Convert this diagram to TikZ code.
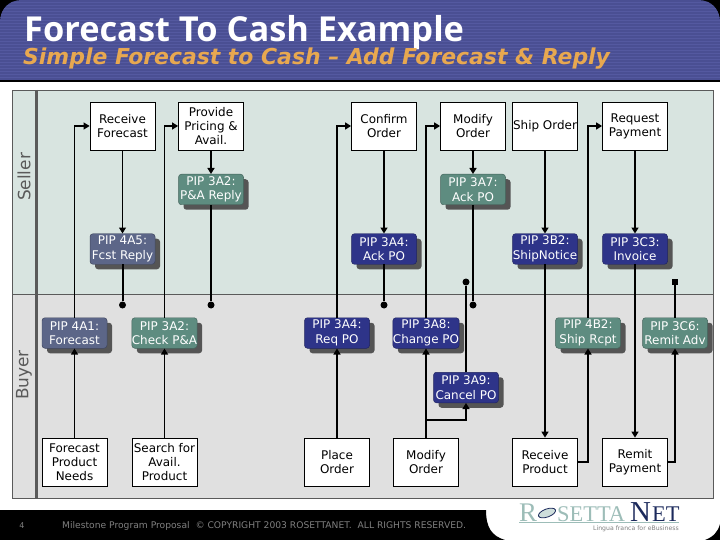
\documentclass[tikz,border=0pt]{standalone}
\usepackage{fontspec}
\setmainfont{DejaVu Sans}
\newfontfamily\titlefont{Open Sans}
\newfontfamily\logofont{Liberation Serif}
\usetikzlibrary{arrows.meta,shadows}
\definecolor{hdr}{HTML}{4A4F93}
\definecolor{hdrline}{HTML}{5459A0}
\definecolor{sellerbg}{HTML}{D8E4E0}
\definecolor{buyerbg}{HTML}{E0E0E0}
\definecolor{edgegray}{HTML}{5A5A5A}
\definecolor{pipnavy}{HTML}{2E3489}
\definecolor{pipgreen}{HTML}{5E8C80}
\definecolor{pipslate}{HTML}{5C6688}
\definecolor{pipshadow}{HTML}{555555}
\definecolor{orangetxt}{HTML}{E8A850}
\definecolor{foottxt}{HTML}{808080}
\definecolor{logoteal}{HTML}{9DBDB8}
\definecolor{logonavy}{HTML}{1C2A5C}
\tikzset{
  x=1bp,y=-1bp,
  procbox/.style={draw=black,line width=0.8pt,fill=white,minimum width=65bp,minimum height=48bp,
    inner sep=0pt,align=center,font=\fontsize{12}{14}\selectfont,text=black},
  pipbox/.style={rounded corners=3pt,minimum width=65bp,minimum height=30.5bp,inner sep=0pt,
    align=center,font=\fontsize{12}{14.5}\selectfont,text=white,draw=#1!70!black,line width=0.5pt,fill=#1,
    general shadow={shadow xshift=5bp,shadow yshift=-5bp,fill=pipshadow,draw=none}},
  thinlink/.style={line width=1.1bp,draw=black,-{Triangle[length=6bp,width=7bp]}},
  link/.style={line width=2bp,draw=black,-{Triangle[length=6bp,width=7bp]}},
  plain/.style={line width=2bp,draw=black},
  enddot/.style={circle,fill=black,inner sep=0pt,minimum size=7bp},
  endsquare/.style={rectangle,fill=black,inner sep=0pt,minimum size=6bp},
  hdrshape/.style={insert path={(0,80) -- (0,22) .. controls (0,10) and (8,0) .. (22,0) -- (698,0) .. controls (712,0) and (720,10) .. (720,22) -- (720,80) -- cycle}},
}
\begin{document}
\begin{tikzpicture}
\useasboundingbox (0,0) rectangle (720,540);
\fill[white] (0,0) rectangle (720,540);
% header
\fill[black] (0,0) rectangle (720,82);
\fill[hdr,hdrshape];
\begin{scope}
\clip[hdrshape];
\foreach \yy in {2,5,...,80} \draw[hdrline,line width=0.6pt] (0,\yy) -- (720,\yy);
\end{scope}
\node[anchor=base west,inner sep=0pt,text=white,font=\titlefont\bfseries\fontsize{34.5}{34.5}\selectfont] (title) at (24,42) {Forecast To Cash Example};
\node[anchor=base west,inner sep=0pt,text=orangetxt,font=\bfseries\itshape\fontsize{22}{22}\selectfont] (subtitle) at (23,65) {Simple Forecast to Cash – Add Forecast \& Reply};
% footer
\fill[black] (0,510) -- (486,510) .. controls (486,528) and (492,536) .. (505,540) -- (0,540) -- cycle;
\fill[black] (720,524) .. controls (718,532) and (713,537) .. (705,540) -- (720,540) -- cycle;
\node[text=foottxt,inner sep=0pt,font=\fontsize{8}{8}\selectfont] (pagenum) at (22,526) {4};
\node[anchor=west,text=foottxt,inner sep=0pt,font=\fontsize{9.2}{9}\selectfont] (foot) at (62,526) {Milestone Program Proposal\ \ © COPYRIGHT 2003 ROSETTANET.\ \ ALL RIGHTS RESERVED.};
% logo
\node[anchor=base west,inner sep=0pt,text=logoteal,font=\logofont\fontsize{27}{27}\selectfont] (logoa) at (519,521) {R};
\node[anchor=base west,inner sep=0pt,text=logoteal,font=\logofont\fontsize{22.5}{22.5}\selectfont] (logob) at (557,521) {SETTA};
\node[anchor=base west,inner sep=0pt,text=logonavy,font=\logofont\fontsize{29}{29}\selectfont] (logoc) at (630,521) {N};
\node[anchor=base west,inner sep=0pt,text=logonavy,font=\logofont\fontsize{22.5}{22.5}\selectfont] (logod) at (652,521) {ET};
\draw[logonavy,line width=0.8pt,fill=logoteal!50] (547,513) ellipse[x radius=9bp,y radius=4bp,rotate=20];
\draw[logoteal,line width=0.5pt] (519,522.5) -- (679,522.5);
\node[anchor=east,inner sep=0pt,text=gray,font=\fontsize{6.2}{6.2}\selectfont] (tagline) at (679,528.5) {Lingua franca for eBusiness};
% swimlanes
\fill[sellerbg] (12,90) rectangle (713,294);
\fill[buyerbg] (12,294) rectangle (713,498);
\draw[edgegray,line width=0.8pt] (12,90) rectangle (713,498);
\draw[edgegray,line width=0.8pt] (12,294) -- (713,294);
\draw[edgegray,line width=3bp] (36.5,90) -- (36.5,498);
\node[rotate=90,text=edgegray,inner sep=0pt,font=\fontsize{17}{17}\selectfont] (seller) at (24,177) {Seller};
\node[rotate=90,text=edgegray,inner sep=0pt,font=\fontsize{17}{17}\selectfont] (buyer) at (24,375) {Buyer};
% process boxes
\node[procbox] (recv) at (122.5,126) {Receive\\Forecast};
\node[procbox] (prov) at (211,126) {Provide\\Pricing \&\\Avail.};
\node[procbox] (conf) at (384,126) {Confirm\\Order};
\node[procbox] (modS) at (473,126) {Modify\\Order};
\node[procbox] (ship) at (545,126) {Ship Order};
\node[procbox] (requ) at (635,126) {Request\\Payment};
\node[procbox] (need) at (74.5,462) {Forecast\\Product\\Needs};
\node[procbox] (srch) at (164.5,462) {Search for\\Avail.\\Product};
\node[procbox] (plac) at (337,462) {Place\\Order};
\node[procbox] (modB) at (426,462) {Modify\\Order};
\node[procbox] (rcvp) at (545,462) {Receive\\Product};
\node[procbox] (remi) at (635,462) {Remit\\Payment};
% PIP boxes
\node[pipbox=pipgreen] (p3a2r) at (211,189.5) {PIP 3A2:\\P\&A Reply};
\node[pipbox=pipgreen] (p3a7) at (473,189.5) {PIP 3A7:\\Ack PO};
\node[pipbox=pipslate] (p4a5) at (122.5,249) {PIP 4A5:\\Fcst Reply};
\node[pipbox=pipnavy] (p3a4a) at (384,249) {PIP 3A4:\\Ack PO};
\node[pipbox=pipnavy] (p3b2) at (545,249) {PIP 3B2:\\ShipNotice};
\node[pipbox=pipnavy] (p3c3) at (635,249) {PIP 3C3:\\Invoice};
\node[pipbox=pipslate] (p4a1) at (74.5,333) {PIP 4A1:\\Forecast};
\node[pipbox=pipgreen] (p3a2c) at (164.5,333) {PIP 3A2:\\Check P\&A};
\node[pipbox=pipnavy] (p3a4r) at (337,333) {PIP 3A4:\\Req PO};
\node[pipbox=pipnavy] (p3a8) at (426,333) {PIP 3A8:\\Change PO};
\node[pipbox=pipgreen] (p4b2) at (588,333) {PIP 4B2:\\Ship Rcpt};
\node[pipbox=pipgreen] (p3c6) at (675,333) {PIP 3C6:\\Remit Adv};
\node[pipbox=pipnavy] (p3a9) at (466,387.5) {PIP 3A9:\\Cancel PO};
% end points
\node[enddot] (d1) at (122.5,305) {};
\node[enddot] (d2) at (211,305) {};
\node[enddot] (d3) at (384,305) {};
\node[enddot] (d4) at (473,305) {};
\node[enddot] (d5) at (466,282) {};
\node[endsquare] (d6) at (675,282) {};
\coordinate (jct) at (426,420);
% connectors
\draw[thinlink] (recv.south) -- (p4a5.north);
\draw[link] (prov.south) -- (p3a2r.north);
\draw[link] (conf.south) -- (p3a4a.north);
\draw[link] (modS.south) -- (p3a7.north);
\draw[link] (ship.south) -- (p3b2.north);
\draw[link] (requ.south) -- (p3c3.north);
\draw[plain] (p4a5.south) -- (d1);
\draw[plain] (p3a2r.south) -- (d2);
\draw[plain] (p3a4a.south) -- (d3);
\draw[plain] (p3a7.south) -- (d4);
\draw[plain] (p3a9.north) -- (d5);
\draw[plain] (p3c6.north) -- (d6);
\draw[link] (p3b2.south) -- (rcvp.north);
\draw[link] (p3c3.south) -- (remi.north);
\draw[thinlink] (need.north) -- (p4a1.south);
\draw[thinlink] (srch.north) -- (p3a2c.south);
\draw[link] (plac.north) -- (p3a4r.south);
\draw[link] (modB.north) -- (p3a8.south);
\draw[link] (jct) -| (p3a9.south);
\draw[link] (rcvp.east) -| (p4b2.south);
\draw[link] (remi.east) -| (p3c6.south);
\draw[thinlink] (p4a1.north) |- (recv.west);
\draw[thinlink] (p3a2c.north) |- (prov.west);
\draw[link] (p3a4r.north) |- (conf.west);
\draw[link] (p3a8.north) |- (modS.west);
\draw[link] (p4b2.north) |- (requ.west);
\end{tikzpicture}
\end{document}
